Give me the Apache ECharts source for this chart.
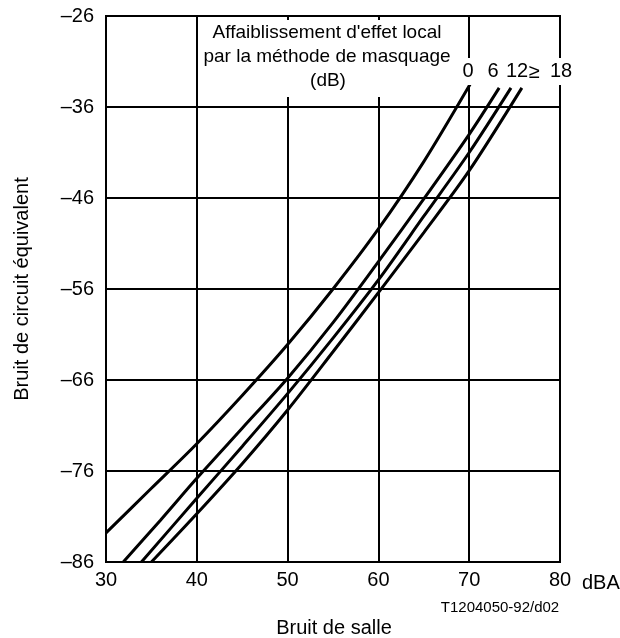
<!DOCTYPE html>
<html>
<head>
<meta charset="utf-8">
<script src="https://cdn.jsdelivr.net/npm/echarts@6/dist/echarts.min.js"></script>
<style>
  html, body { margin: 0; padding: 0; background: #fff; }
  #chart { width: 620px; height: 638px; }
</style>
</head>
<body>
<div id="chart"></div>
<script>
// Room noise (dBA) vs equivalent circuit noise, one curve per sidetone masking loss
const curveNames = ['0', '6', '12', '≥ 18'];

const curve0 = [[30, -82.8], [35, -77.9], [40, -73.0], [45, -67.7], [50, -62.1], [55, -56.0], [60, -49.4], [65, -42.0], [70.1, -33.5]];
const curve6 = [[31.9, -86], [36, -81.4], [40, -76.8], [45, -71.3], [50, -65.8], [55, -59.7], [60, -53.0], [65, -46.1], [70, -39.0], [73.3, -33.9]];
const curve12 = [[33.9, -86], [40, -79.0], [45, -73.3], [50, -67.5], [55, -61.4], [60, -55.0], [65, -48.0], [70, -41.0], [74.6, -33.9]];
const curve18 = [[35.0, -86], [40, -80.7], [45, -75.2], [50, -69.3], [55, -62.9], [60, -56.4], [65, -49.8], [70, -43.0], [75.8, -33.9]];
const curveData = [curve0, curve6, curve12, curve18];

const xTicks = { min: 30, max: 80, step: 10 };
const yTicks = { min: -86, max: -26, step: 10 };

const FONT = '"Liberation Sans", Arial, sans-serif';
const dash = v => String(v).replace('-', '\u2013');

const chart = echarts.init(document.getElementById('chart'), null, { renderer: 'canvas' });

const axisCommon = {
  type: 'value',
  axisLine: { show: true, lineStyle: { color: '#000', width: 2 } },
  axisTick: { show: false },
  splitLine: { show: true, lineStyle: { color: '#000', width: 2 } },
  axisLabel: { color: '#000', fontFamily: FONT, fontSize: 20 }
};

chart.setOption({
  backgroundColor: '#fff',
  animation: false,
  grid: { left: 106, right: 60, top: 16, bottom: 76, show: true, borderColor: '#000', borderWidth: 2 },
  xAxis: Object.assign({}, axisCommon, {
    min: xTicks.min, max: xTicks.max, interval: xTicks.step,
    axisLabel: Object.assign({}, axisCommon.axisLabel, { margin: 8 })
  }),
  yAxis: Object.assign({}, axisCommon, {
    min: yTicks.min, max: yTicks.max, interval: yTicks.step,
    axisLabel: Object.assign({}, axisCommon.axisLabel, { margin: 12, formatter: dash })
  }),
  series: curveData.map((d, i) => ({
    name: curveNames[i],
    type: 'line',
    data: d,
    smooth: 0.3,
    symbol: 'none',
    lineStyle: { color: '#000', width: 3 },
    z: 3
  })),
  graphic: [
    // white panel behind the legend heading
    { type: 'rect', shape: { x: 200, y: 20, width: 256, height: 77 }, style: { fill: '#fff' }, z: 50 },
    { type: 'text', x: 327, y: 33, z: 60, style: { text: "Affaiblissement d'effet local", font: '19px ' + FONT, fill: '#000', align: 'center', verticalAlign: 'middle' } },
    { type: 'text', x: 327, y: 57, z: 60, style: { text: 'par la méthode de masquage', font: '19px ' + FONT, fill: '#000', align: 'center', verticalAlign: 'middle' } },
    { type: 'text', x: 328, y: 81, z: 60, style: { text: '(dB)', font: '19px ' + FONT, fill: '#000', align: 'center', verticalAlign: 'middle' } },
    // curve labels
    { type: 'rect', shape: { x: 459, y: 58, width: 120, height: 27 }, style: { fill: '#fff' }, z: 50 },
    { type: 'text', x: 468, y: 71, z: 60, style: { text: curveNames[0], font: '20px ' + FONT, fill: '#000', align: 'center', verticalAlign: 'middle' } },
    { type: 'text', x: 493, y: 71, z: 60, style: { text: curveNames[1], font: '20px ' + FONT, fill: '#000', align: 'center', verticalAlign: 'middle' } },
    { type: 'text', x: 517, y: 71, z: 60, style: { text: curveNames[2], font: '20px ' + FONT, fill: '#000', align: 'center', verticalAlign: 'middle' } },
    { type: 'text', x: 534, y: 72, z: 60, style: { text: '≥', font: '20px ' + FONT, fill: '#000', align: 'center', verticalAlign: 'middle' } },
    { type: 'text', x: 561, y: 71, z: 60, style: { text: '18', font: '20px ' + FONT, fill: '#000', align: 'center', verticalAlign: 'middle' } },
    // unit, axis titles, reference code
    { type: 'text', x: 582, y: 583, z: 60, style: { text: 'dBA', font: '20px ' + FONT, fill: '#000', align: 'left', verticalAlign: 'middle' } },
    { type: 'text', x: 500, y: 608, z: 60, style: { text: 'T1204050-92/d02', font: '15px ' + FONT, fill: '#000', align: 'center', verticalAlign: 'middle' } },
    { type: 'text', x: 334, y: 628, z: 60, style: { text: 'Bruit de salle', font: '20px ' + FONT, fill: '#000', align: 'center', verticalAlign: 'middle' } },
    { type: 'text', x: 22, y: 289, rotation: Math.PI / 2, z: 60, style: { text: 'Bruit de circuit équivalent', font: '20px ' + FONT, fill: '#000', align: 'center', verticalAlign: 'middle' } }
  ]
});
</script>
</body>
</html>
